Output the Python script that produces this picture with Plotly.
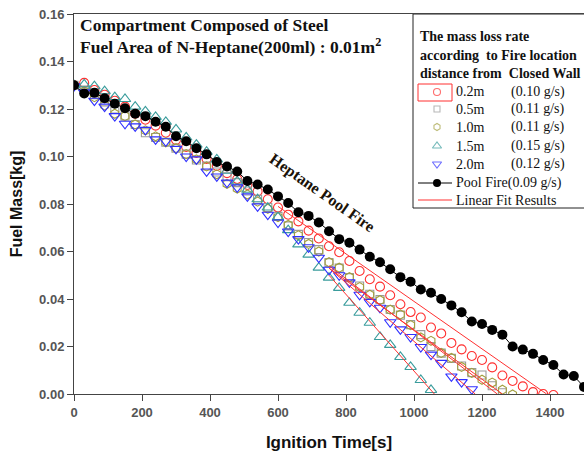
import plotly.graph_objects as go

# ---------------- data ----------------
t_pool = [0, 30, 60, 90, 120, 150, 180, 210, 240, 270, 300, 330, 360, 390, 420, 450, 480, 510, 540, 570,
          600, 630, 660, 690, 720, 750, 780, 810, 840, 870, 900, 930, 960, 990, 1020, 1050, 1080, 1110,
          1140, 1170, 1200, 1230, 1260, 1290, 1320, 1350, 1380, 1410, 1440, 1470, 1500]
m_pool = [0.1300, 0.1265, 0.1268, 0.1245, 0.1222, 0.1203, 0.1180, 0.1170, 0.1146, 0.1125, 0.1085, 0.1064,
          0.1035, 0.1009, 0.0977, 0.0958, 0.0937, 0.0897, 0.0882, 0.0861, 0.0832, 0.0804, 0.0765, 0.0750,
          0.0722, 0.0685, 0.0652, 0.0637, 0.0608, 0.0578, 0.0555, 0.0525, 0.0492, 0.0473, 0.0440, 0.0426,
          0.0400, 0.0373, 0.0344, 0.0305, 0.0295, 0.0270, 0.0250, 0.0200, 0.0187, 0.0169, 0.0143, 0.0122,
          0.0082, 0.0076, 0.0030]

t_02 = [0, 30, 60, 90, 120, 150, 180, 210, 240, 270, 300, 330, 360, 390, 420, 450, 480, 510, 540, 570,
        600, 630, 660, 690, 720, 750, 780, 810, 840, 870, 900, 930, 960, 990, 1020, 1050, 1080, 1110,
        1140, 1170, 1200, 1230, 1260, 1290, 1320, 1350, 1380, 1410]
m_02 = [0.1300, 0.1310, 0.1280, 0.1260, 0.1235, 0.1210, 0.1180, 0.1155, 0.1130, 0.1100, 0.1070, 0.1040,
        0.1015, 0.0990, 0.0960, 0.0930, 0.0905, 0.0880, 0.0853, 0.0820, 0.0785, 0.0755, 0.0727, 0.0688,
        0.0655, 0.0622, 0.0597, 0.0560, 0.0518, 0.0483, 0.0452, 0.0416, 0.0378, 0.0345, 0.0322, 0.0280,
        0.0255, 0.0215, 0.0188, 0.0160, 0.0143, 0.0112, 0.0078, 0.0055, 0.0032, 0.0008, 0.0000, -0.0004]

t_05 = [0, 30, 60, 90, 120, 150, 180, 210, 240, 270, 300, 330, 360, 390, 420, 450, 480, 510, 540, 570,
        600, 630, 660, 690, 720, 750, 780, 810, 840, 870, 900, 930, 960, 990, 1020, 1050, 1080, 1110,
        1140, 1170, 1200, 1230, 1260]
m_05 = [0.1300, 0.1280, 0.1260, 0.1230, 0.1200, 0.1170, 0.1135, 0.1100, 0.1080, 0.1060, 0.1035, 0.1010,
        0.0985, 0.0960, 0.0935, 0.0915, 0.0890, 0.0855, 0.0820, 0.0785, 0.0748, 0.0708, 0.0672, 0.0638,
        0.0608, 0.0553, 0.0530, 0.0490, 0.0455, 0.0420, 0.0398, 0.0356, 0.0332, 0.0292, 0.0250, 0.0200,
        0.0172, 0.0150, 0.0118, 0.0090, 0.0080, 0.0035, 0.0005]

t_10 = [0, 30, 60, 90, 120, 150, 180, 210, 240, 270, 300, 330, 360, 390, 420, 450, 480, 510, 540, 570,
        600, 630, 660, 690, 720, 750, 780, 810, 840, 870, 900, 930, 960, 990, 1020, 1050, 1080, 1110,
        1140, 1170, 1200, 1230, 1260, 1290]
m_10 = [0.1300, 0.1275, 0.1250, 0.1215, 0.1180, 0.1170, 0.1135, 0.1110, 0.1085, 0.1060, 0.1035, 0.1010,
        0.0988, 0.0958, 0.0925, 0.0885, 0.0865, 0.0840, 0.0810, 0.0780, 0.0745, 0.0712, 0.0668, 0.0632,
        0.0600, 0.0555, 0.0532, 0.0492, 0.0450, 0.0418, 0.0395, 0.0355, 0.0335, 0.0290, 0.0238, 0.0224,
        0.0173, 0.0152, 0.0114, 0.0089, 0.0060, 0.0048, 0.0018, -0.0002]

t_15 = [0, 30, 60, 90, 120, 150, 180, 210, 240, 270, 300, 330, 360, 390, 420, 450, 480, 510, 540, 570,
        600, 630, 660, 690, 720, 750, 780, 810, 840, 870, 900, 930, 960, 990, 1020, 1050]
m_15 = [0.1300, 0.1304, 0.1296, 0.1275, 0.1250, 0.1242, 0.1210, 0.1190, 0.1167, 0.1146, 0.1114, 0.1080,
        0.1050, 0.1020, 0.0988, 0.0940, 0.0895, 0.0860, 0.0820, 0.0785, 0.0745, 0.0690, 0.0630, 0.0587,
        0.0532, 0.0490, 0.0447, 0.0384, 0.0342, 0.0300, 0.0240, 0.0207, 0.0156, 0.0114, 0.0059, 0.0017]

t_20 = [0, 30, 60, 90, 120, 150, 180, 210, 240, 270, 300, 330, 360, 390, 420, 450, 480, 510, 540, 570,
        600, 630, 660, 690, 720, 750, 780, 810, 840, 870, 900, 930, 960, 990, 1020, 1050, 1080, 1110,
        1140, 1170]
m_20 = [0.1296, 0.1270, 0.1235, 0.1210, 0.1170, 0.1138, 0.1127, 0.1112, 0.1072, 0.1064, 0.1032, 0.1000,
        0.0988, 0.0937, 0.0916, 0.0890, 0.0870, 0.0832, 0.0790, 0.0755, 0.0722, 0.0684, 0.0652, 0.0618,
        0.0574, 0.0523, 0.0500, 0.0470, 0.0418, 0.0388, 0.0363, 0.0302, 0.0272, 0.0240, 0.0198, 0.0166,
        0.0131, 0.0074, 0.0050, 0.0020]

# linear fit results (end points of each fitted segment)
fit_02_t = [600, 1390]
fit_02_m = [0.0790, 0.0000]
fit_05_t = [750, 1245]
fit_05_m = [0.0540, 0.0000]
fit_10_t = [750, 1260]
fit_10_m = [0.0530, 0.0000]
fit_15_t = [750, 1060]
fit_15_m = [0.0500, 0.0000]
fit_20_t = [750, 1180]
fit_20_m = [0.0530, 0.0000]

legend_labels = ["0.2m", "0.5m", "1.0m", "1.5m", "2.0m"]
legend_rates = ["(0.10 g/s)", "(0.11 g/s)", "(0.11 g/s)", "(0.15 g/s)", "(0.12 g/s)"]

x_ticks = [0, 200, 400, 600, 800, 1000, 1200, 1400]
y_ticks = [0.00, 0.02, 0.04, 0.06, 0.08, 0.10, 0.12, 0.14, 0.16]

# ---------------- styles ----------------
RED = "#ff3030"
GRAY = "#9a9a9a"
OLIVE = "#a3a040"
TEAL = "#3a9c9c"
BLUE = "#3030ff"
SERIF = "Liberation Serif"
SANS = "Liberation Sans"

# layout geometry (pixels in the 584x452 page)
L, R, T, B = 74, 0, 14, 58
W, H = 584, 452
PW, PH = W - L - R, H - T - B


def px(x):
    return (x - L) / PW


def py(y):
    return (H - B - y) / PH


fig = go.Figure()

series = [
    (t_02, m_02, "circle-open", RED, 9),
    (t_05, m_05, "square-open", GRAY, 8),
    (t_10, m_10, "hexagon-open", OLIVE, 9),
    (t_15, m_15, "triangle-up-open", TEAL, 10),
    (t_20, m_20, "triangle-down-open", BLUE, 10),
]
for tt, mm, sym, col, sz in series:
    fig.add_trace(go.Scatter(x=tt, y=mm, mode="markers",
                             marker=dict(symbol=sym, size=sz, color=col, line=dict(width=1.1, color=col)),
                             showlegend=False, hoverinfo="skip"))

fig.add_trace(go.Scatter(x=t_pool, y=m_pool, mode="lines+markers",
                         line=dict(color="black", width=1),
                         marker=dict(symbol="circle", size=10, color="black"),
                         showlegend=False, hoverinfo="skip"))

for ft, fm in [(fit_02_t, fit_02_m), (fit_05_t, fit_05_m), (fit_10_t, fit_10_m),
               (fit_15_t, fit_15_m), (fit_20_t, fit_20_m)]:
    fig.add_trace(go.Scatter(x=ft, y=fm, mode="lines", line=dict(color=RED, width=1),
                             showlegend=False, hoverinfo="skip"))

# ---------------- hand-made legend ----------------
leg_syms = ["circle-open", "square-open", "hexagon-open", "triangle-up-open", "triangle-down-open"]
leg_cols = [RED, GRAY, OLIVE, TEAL, BLUE]
leg_y = [92, 109, 127, 146, 164]
fig.add_trace(go.Scatter(x=[437] * 5, y=leg_y, mode="markers", xaxis="x2", yaxis="y2",
                         marker=dict(symbol=leg_syms, size=[7, 6, 7, 8, 8], color=leg_cols,
                                     line=dict(width=1.1, color=leg_cols)),
                         showlegend=False, hoverinfo="skip"))
fig.add_trace(go.Scatter(x=[418, 437, 452], y=[183, 183, 183], mode="lines", xaxis="x2", yaxis="y2",
                         line=dict(color="black", width=1), showlegend=False, hoverinfo="skip"))
fig.add_trace(go.Scatter(x=[437], y=[183], mode="markers", xaxis="x2", yaxis="y2",
                         marker=dict(symbol="circle", size=8, color="black"),
                         showlegend=False, hoverinfo="skip"))
fig.add_trace(go.Scatter(x=[418, 452], y=[200, 200], mode="lines", xaxis="x2", yaxis="y2",
                         line=dict(color=RED, width=1), showlegend=False, hoverinfo="skip"))

shapes = [
    dict(type="rect", xref="paper", yref="paper", x0=px(413), x1=px(600), y0=py(208), y1=py(14),
         line=dict(color="#222", width=1), fillcolor="white", layer="below"),
    dict(type="rect", xref="paper", yref="paper", x0=px(418), x1=px(452), y0=py(101), y1=py(84),
         line=dict(color=RED, width=1), fillcolor="rgba(0,0,0,0)", layer="above"),
]

annotations = []
for i, yy in enumerate([37, 55, 73]):
    txt = ["The mass loss rate", "according  to Fire location", "distance from  Closed Wall"][i]
    annotations.append(dict(text="<b>" + txt + "</b>", xref="paper", yref="paper", x=px(418), y=py(yy),
                            xanchor="left", yanchor="middle", showarrow=False,
                            font=dict(family=SERIF, size=14, color="#111")))
for lab, rate, yy in zip(legend_labels, legend_rates, leg_y):
    annotations.append(dict(text=lab, xref="paper", yref="paper", x=px(454), y=py(yy),
                            xanchor="left", yanchor="middle", showarrow=False,
                            font=dict(family=SERIF, size=14, color="#111")))
    annotations.append(dict(text=rate, xref="paper", yref="paper", x=px(509), y=py(yy),
                            xanchor="left", yanchor="middle", showarrow=False,
                            font=dict(family=SERIF, size=14, color="#111")))
annotations.append(dict(text="Pool Fire(0.09 g/s)", xref="paper", yref="paper", x=px(454), y=py(183),
                        xanchor="left", yanchor="middle", showarrow=False,
                        font=dict(family=SERIF, size=14, color="#111")))
annotations.append(dict(text="Linear Fit Results", xref="paper", yref="paper", x=px(454), y=py(200),
                        xanchor="left", yanchor="middle", showarrow=False,
                        font=dict(family=SERIF, size=14, color="#111")))

# header text
annotations.append(dict(text="<b>Compartment Composed of Steel</b>", xref="paper", yref="paper",
                        x=px(78), y=py(25), xanchor="left", yanchor="middle", showarrow=False,
                        font=dict(family=SERIF, size=17.5, color="#111")))
annotations.append(dict(text="<b>Fuel Area of N-Heptane(200ml) : 0.01m<sup>2</sup></b>", xref="paper",
                        yref="paper", x=px(78), y=py(46), xanchor="left", yanchor="middle", showarrow=False,
                        font=dict(family=SERIF, size=17.5, color="#111")))
annotations.append(dict(text="<b>Heptane Pool Fire</b>", xref="paper", yref="paper",
                        x=px(322), y=py(193), xanchor="center", yanchor="middle", showarrow=False,
                        textangle=35, font=dict(family=SERIF, size=16, color="#1a1208")))

fig.update_layout(
    width=W, height=H,
    margin=dict(l=L, r=R, t=T, b=B),
    paper_bgcolor="white", plot_bgcolor="white",
    showlegend=False,
    shapes=shapes, annotations=annotations,
    xaxis=dict(range=[0, 1500], tickvals=x_ticks, ticktext=[str(v) for v in x_ticks],
               showgrid=False, zeroline=False, showline=True, linecolor="#444", linewidth=1,
               mirror=True, ticks="outside", ticklen=6, tickcolor="#444",
               tickfont=dict(family=SANS, size=13, color="#555", weight="bold"),
               title=dict(text="<b>Ignition Time[s]</b>", font=dict(family=SANS, size=17, color="#111"),
                          standoff=17)),
    yaxis=dict(range=[0, 0.16], tickvals=y_ticks, ticktext=["%.2f" % v for v in y_ticks],
               showgrid=False, zeroline=False, showline=True, linecolor="#444", linewidth=1,
               ticks="outside", ticklen=6, tickcolor="#444",
               tickfont=dict(family=SANS, size=13, color="#555", weight="bold"),
               title=dict(text="<b>Fuel Mass[kg]</b>", font=dict(family=SANS, size=16, color="#111"),
                          standoff=12)),
    xaxis2=dict(overlaying="x", anchor="y2", range=[L, W - R], visible=False, fixedrange=True),
    yaxis2=dict(overlaying="y", anchor="x2", range=[H - B, T], visible=False, fixedrange=True),
)

fig.write_html("out.html", config={"displayModeBar": False},
               post_script="document.body.style.margin='0';document.body.style.overflow='hidden';")
